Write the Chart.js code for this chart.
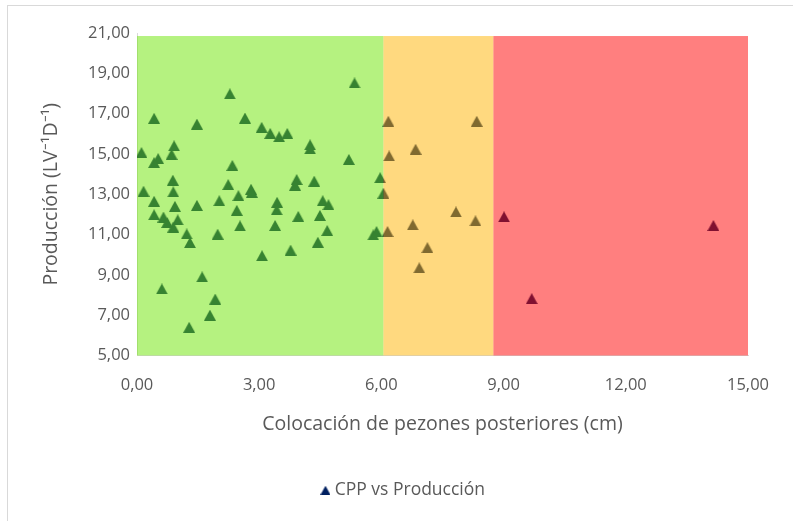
<!DOCTYPE html>
<html><head><meta charset="utf-8">
<script src="https://cdn.jsdelivr.net/npm/chart.js@4/dist/chart.umd.min.js"></script>
<style>
html,body{margin:0;padding:0;background:#fff;}
#wrap{position:relative;width:793px;height:521px;overflow:hidden;}
#frame{position:absolute;left:7px;top:5px;width:800px;height:600px;border-left:1px solid #d9d9d9;border-top:1px solid #d9d9d9;}
canvas{position:absolute;left:0;top:0;}
</style></head><body>
<div id="wrap"><div id="frame"></div><canvas id="c" width="793" height="521"></canvas></div>
<script>
// ---- data ----
const seriesName = 'CPP vs Producción';
const cppValues = [
  2.28, 0.42, 1.47, 2.65, 3.06, 3.27, 3.49, 3.69, 0.91, 0.11,
  0.85, 0.52, 0.42, 2.34, 0.88, 2.24, 0.16, 0.89, 2.80, 2.82,
  2.49, 0.42, 2.02, 1.47, 0.93, 2.45, 0.42, 0.65, 1.00, 0.74,
  0.89, 2.53, 1.22, 1.30, 1.98, 3.07, 1.60, 0.61, 1.92, 1.79,
  1.28,
  5.34, 4.25, 4.25, 5.20, 5.97, 6.05, 3.92, 3.88, 4.35, 3.44,
  3.43, 4.56, 4.70, 3.96, 4.49, 3.39, 4.67, 4.44, 3.77, 5.80,
  5.88,
  6.17, 8.34, 6.84, 6.19, 7.83, 8.31, 6.77, 6.15, 7.13, 6.93,
  9.01, 9.69, 14.15
];
const produccionValues = [
  17.98, 16.77, 16.48, 16.78, 16.32, 16.02, 15.85, 16.02, 15.40, 15.07,
  14.98, 14.77, 14.57, 14.43, 13.70, 13.48, 13.15, 13.12, 13.25, 13.10,
  12.93, 12.65, 12.68, 12.45, 12.40, 12.20, 11.98, 11.87, 11.73, 11.60,
  11.37, 11.43, 11.03, 10.60, 11.02, 9.95, 8.90, 8.30, 7.80, 7.00,
  6.40,
  18.52, 15.45, 15.25, 14.73, 13.82, 13.05, 13.73, 13.45, 13.65, 12.60,
  12.23, 12.68, 12.48, 11.90, 11.95, 11.45, 11.20, 10.62, 10.23, 10.98,
  11.15,
  16.62, 16.62, 15.23, 14.90, 12.12, 11.68, 11.48, 11.15, 10.35, 9.35,
  11.88, 7.82, 11.45
];
const xTickValues = [0, 3, 6, 9, 12, 15];
const yTickValues = [5, 7, 9, 11, 13, 15, 17, 19, 21];
const zoneLimits = [0, 6.05, 8.75, 15];   // CPP zone boundaries (cm)
const zoneTop = 20.85;
const xTitle = 'Colocación de pezones posteriores (cm)';
const yTitle = 'Producción (LV⁻¹D⁻¹)';

// ---- styles ----
const zoneFills = ['rgba(107,229,1,0.5)', 'rgba(255,179,0,0.5)', 'rgba(255,0,0,0.5)'];
const textColor = '#595959';
const FONT = "'Open Sans', sans-serif";

function makeTriangle(w, h, color) {
  const c = document.createElement('canvas');
  c.width = w; c.height = h;
  const g = c.getContext('2d');
  g.fillStyle = color;
  g.beginPath(); g.moveTo(w / 2, 0); g.lineTo(w, h); g.lineTo(0, h); g.closePath(); g.fill();
  return c;
}
const tri = makeTriangle(12, 11, '#002060');
const legendTri = makeTriangle(10, 9, '#002060');

const fmt = v => Number(v).toFixed(2).replace('.', ',');

const zonePlugin = {
  id: 'zones',
  afterLayout(chart) {
    if (chart.legend) { chart.legend.left += 31; chart.legend.right += 31; }
  },
  afterDatasetsDraw(chart) {
    const {ctx, scales: {x, y}} = chart;
    ctx.save();
    const top = y.getPixelForValue(zoneTop), bottom = y.getPixelForValue(y.min);
    for (let i = 0; i < zoneFills.length; i++) {
      const l = x.getPixelForValue(zoneLimits[i]), r = x.getPixelForValue(zoneLimits[i + 1]);
      ctx.fillStyle = zoneFills[i];
      ctx.fillRect(l, top, r - l, bottom - top);
    }
    ctx.restore();
  }
};

new Chart(document.getElementById('c'), {
  type: 'scatter',
  data: {
    datasets: [{
      label: seriesName,
      data: cppValues.map((v, i) => ({x: v, y: produccionValues[i]})),
      pointStyle: tri,
      backgroundColor: '#002060',
      borderColor: '#002060'
    }]
  },
  options: {
    responsive: false,
    animation: false,
    events: [],
    layout: {padding: {left: 0, top: 33, right: 45, bottom: 12}},
    plugins: {
      tooltip: {enabled: false},
      legend: {
        position: 'bottom',
        labels: {
          usePointStyle: true, pointStyleWidth: 1, color: textColor, padding: 8,
          font: {family: FONT, size: 17.5},
          generateLabels: chart => chart.data.datasets.map((d, i) => ({
            text: d.label, fillStyle: '#002060', strokeStyle: '#002060', lineWidth: 0,
            pointStyle: legendTri, fontColor: textColor, datasetIndex: i, hidden: false
          }))
        }
      }
    },
    scales: {
      x: {
        type: 'linear', min: 0, max: 15,
        afterBuildTicks: s => { s.ticks = xTickValues.map(v => ({value: v})); },
        afterFit: s => { s.height = 118; },
        grid: {display: false, drawTicks: false},
        border: {display: true, color: '#d9d9d9', width: 1},
        ticks: {color: textColor, padding: 20, font: {family: FONT, size: 16.5}, callback: v => fmt(v)},
        title: {display: true, text: xTitle, color: textColor, padding: {top: 4, bottom: 37},
                font: {family: FONT, size: 19.5}}
      },
      y: {
        type: 'linear', min: 5, max: 21,
        afterBuildTicks: s => { s.ticks = yTickValues.map(v => ({value: v})); },
        afterFit: s => { s.width = 137; },
        grid: {display: false, drawTicks: false},
        border: {display: true, color: '#d9d9d9', width: 1},
        ticks: {color: textColor, padding: 7, font: {family: FONT, size: 16.5}, callback: v => fmt(v)},
        title: {display: true, text: yTitle, color: textColor, padding: {top: 40, bottom: 0},
                font: {family: FONT, size: 19.5}}
      }
    }
  },
  plugins: [zonePlugin]
});
</script>
</body></html>
